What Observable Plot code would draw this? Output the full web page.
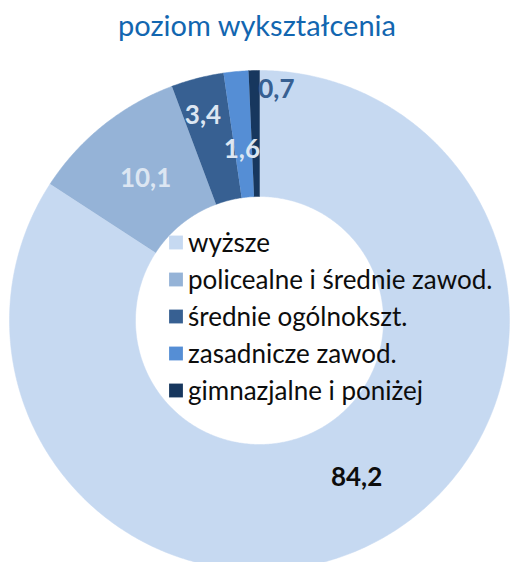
<!DOCTYPE html>
<html>
<head>
<meta charset="utf-8">
<script src="https://cdn.jsdelivr.net/npm/d3@7"></script>
<script src="https://cdn.jsdelivr.net/npm/@observablehq/plot@0.6"></script>
<style>
  html, body { margin: 0; padding: 0; background: #fff; width: 510px; height: 562px; overflow: hidden; }
  #title { height: 50px; width: 510px; text-align: center; font-family: Lato, sans-serif; font-size: 29px; color: #1266b0; line-height: 50px; box-sizing: border-box; padding-top: 0px; padding-left: 4px; }
</style>
</head>
<body>
<div id="title">poziom wykształcenia</div>
<div id="chart"></div>
<script>
const categories = ["wyższe", "policealne i średnie zawod.", "średnie ogólnokszt.", "zasadnicze zawod.", "gimnazjalne i poniżej"];
const values = [84.2, 10.1, 3.4, 1.6, 0.7];
const valueLabels = ["84,2", "10,1", "3,4", "1,6", "0,7"];
const colors = ["#c6d9f1", "#95b3d7", "#376092", "#558ed5", "#17375e"];
const labelColors = ["#0d0d0d", "#dce6f2", "#dce6f2", "#dce6f2", "#376092"];
// label nudges (px) applied to the default centroid position
const labelDx = [8, 3, -10, 0, 21];
const labelDy = [-7, 4, -24, 15, -44];

const W = 510, H = 512;
const cx = 259, cy = 270;       // donut center in svg pixels
const rOuter = 250, rInner = 124;

const pie = d3.pie().sort(null).value(d => d.value)(categories.map((name, i) => ({name, value: values[i], i})));

// polygon points for each slice
const pts = [];
for (const s of pie) {
  const n = Math.max(4, Math.ceil((s.endAngle - s.startAngle) / (Math.PI / 360)));
  for (let k = 0; k <= n; k++) {
    const a = s.startAngle + (s.endAngle - s.startAngle) * k / n;
    pts.push({name: s.data.name, x: rOuter * Math.sin(a), y: rOuter * Math.cos(a)});
  }
  for (let k = n; k >= 0; k--) {
    const a = s.startAngle + (s.endAngle - s.startAngle) * k / n;
    pts.push({name: s.data.name, x: rInner * Math.sin(a), y: rInner * Math.cos(a)});
  }
}

const rMid = (rOuter + rInner) / 2;
const labels = pie.map((s, i) => {
  const a = (s.startAngle + s.endAngle) / 2;
  return {name: s.data.name, text: valueLabels[i], x: rMid * Math.sin(a), y: rMid * Math.cos(a), color: labelColors[i], dx: labelDx[i], dy: labelDy[i]};
});

// legend laid out inside the hole
const legend = categories.map((name, i) => ({name, i, x: -83.5, y: 78 - i * 37}));

const plot = Plot.plot({
  width: W,
  height: H,
  margin: 0,
  x: {domain: [-cx, W - cx], range: [0, W], axis: null},
  y: {domain: [-(H - cy), cy], range: [H, 0], axis: null},
  color: {type: "ordinal", domain: categories, range: colors},
  style: {fontFamily: "Lato, sans-serif", background: "white", overflow: "hidden"},
  marks: [
    Plot.line(pts, {x: "x", y: "y", z: "name", fill: "name", stroke: "name", strokeWidth: 0.5, curve: "linear"}),
    ...labels.map(l => Plot.text([l], {x: "x", y: "y", text: "text", fill: l.color, fontSize: 26, fontWeight: "bold", dx: l.dx, dy: l.dy})),
    Plot.dot(legend, {x: "x", y: "y", fill: "name", symbol: "square", r: 7.8, stroke: null}),
    Plot.text(legend, {x: "x", y: "y", text: "name", fill: "#0d0d0d", fontSize: 26, textAnchor: "start", dx: 12, dy: 1})
  ]
});
document.getElementById("chart").appendChild(plot);
</script>
</body>
</html>
